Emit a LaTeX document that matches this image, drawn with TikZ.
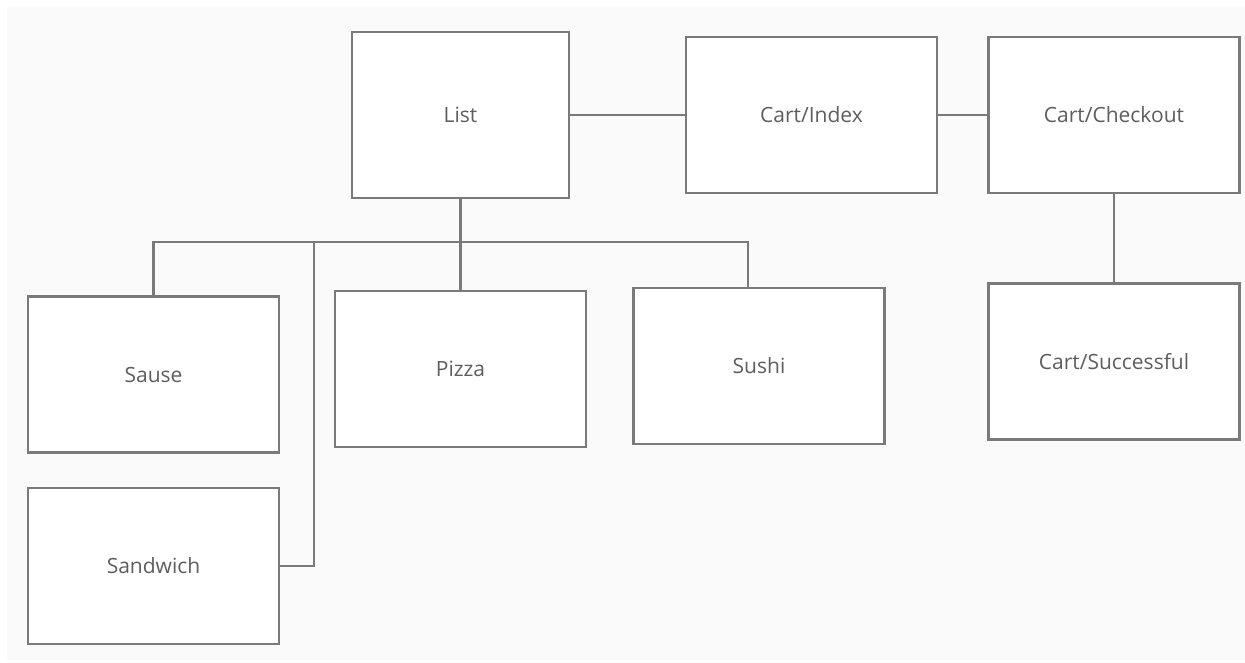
\documentclass[tikz,border=0pt]{standalone}
\usepackage{fontspec}
\setmainfont{Open Sans}
\definecolor{lineGray}{HTML}{7A7A7A}
\definecolor{textGray}{HTML}{5E5E5E}
\definecolor{pageGray}{HTML}{FAFAFA}
\tikzset{%
  % Specifications for style of nodes:
         page/.style = {rectangle, draw=lineGray, line width=2.8pt, fill=white,
                        minimum width=251pt, minimum height=156pt,
                        text=textGray, font=\fontsize{21}{25}\selectfont},
     listPage/.style = {page, minimum width=217pt, minimum height=166pt},
         link/.style = {draw=lineGray, line width=2.8pt},
}

\begin{document}
\begin{tikzpicture}[x=1pt, y=-1pt, node distance=250pt]
  % background
  \fill[white] (0,0) rectangle (1245,663);
  \fill[pageGray] (7,7) rectangle (1245,660);
  \useasboundingbox (0,0) rectangle (1245,663);

  % Specification of nodes (position, etc.)
  \node (list)         [listPage] at (460.5,115)                      {List};
  \node (cartIndex)    [page, right of=list, xshift=101pt]            {Cart/Index};
  \node (cartCheckout) [page, right of=cartIndex, xshift=52.5pt]      {Cart/Checkout};
  \node (cartSuccess)  [page, below of=cartCheckout, yshift=3.5pt]    {Cart/Successful};

  \node (pizza)        [page, below of=list, yshift=-4pt]             {Pizza};
  \node (sushi)        [page, right of=pizza, xshift=48.5pt, yshift=3pt] {Sushi};
  \node (sause)        [page, left of=pizza, xshift=-57pt, yshift=-5.5pt] {Sause};
  \node (sandwich)     [page, below of=sause, yshift=58.5pt]          {Sandwich};

  % points on the menu line
  \coordinate (busRight)  at (748,242);
  \coordinate (sushiJoin) at (748,288);
  \coordinate (busJoin)   at (314,242);

  % Specification of lines between nodes specified above
  \draw[link] (list) -- (cartIndex);
  \draw[link] (cartIndex) -- (cartCheckout);
  \draw[link] (cartCheckout) -- (cartSuccess);
  \draw[link] (list) -- (pizza);
  \draw[link] (sause.north) |- (busRight) -- (sushiJoin);
  \draw[link] (sandwich.east) -| (busJoin);
\end{tikzpicture}
\end{document}
